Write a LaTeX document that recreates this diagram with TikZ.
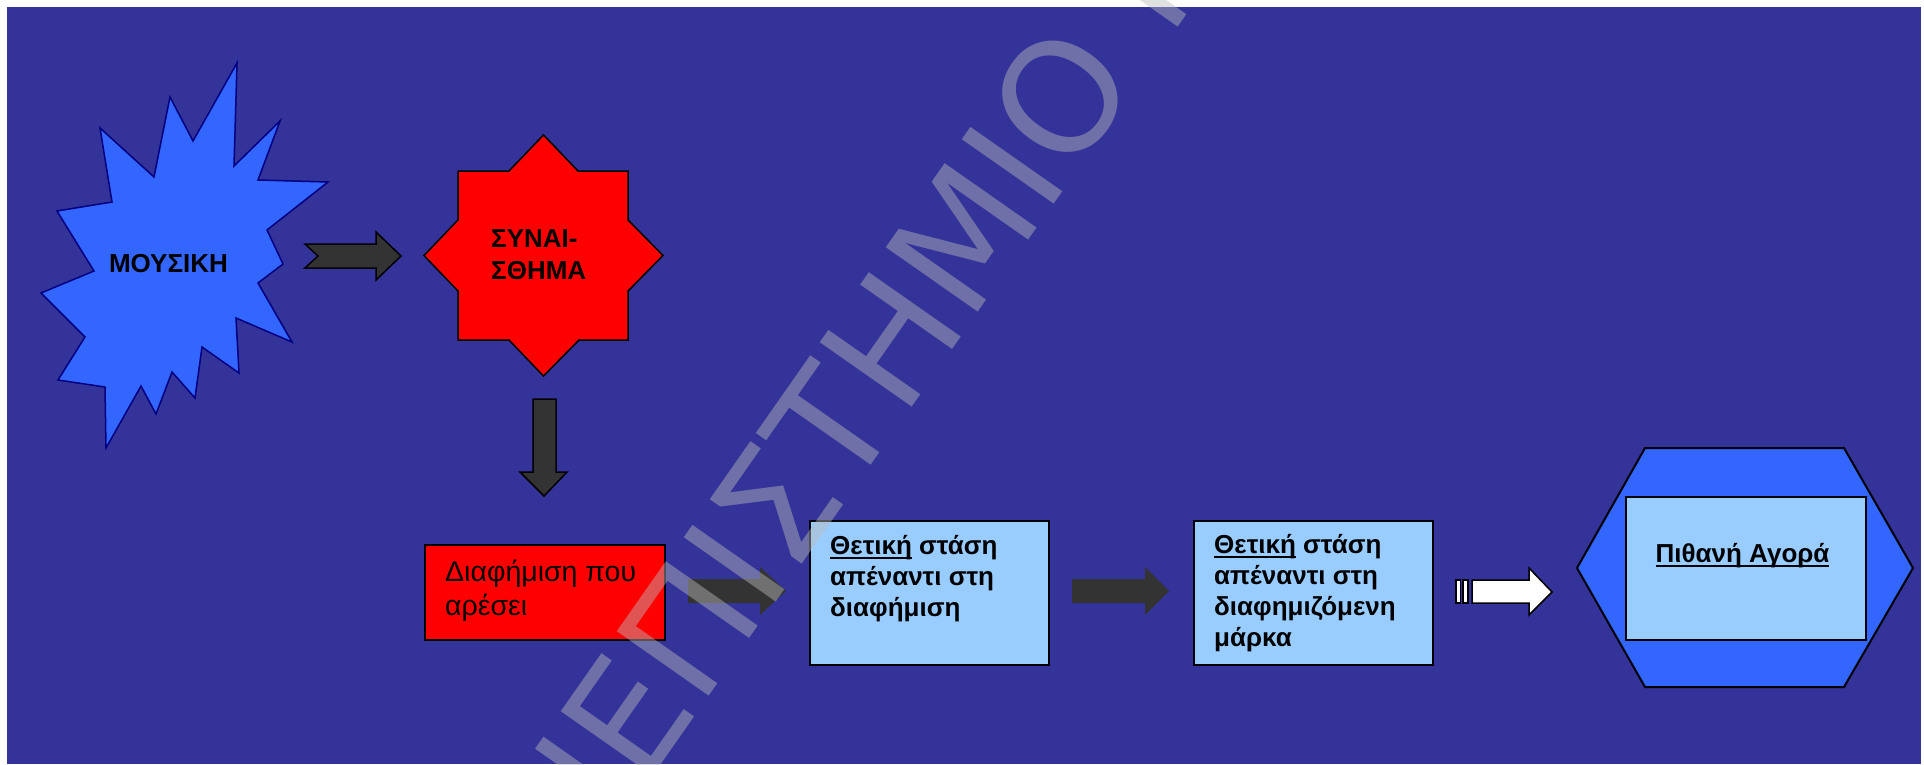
\documentclass[tikz,border=0pt]{standalone}
\usepackage{fontspec}
\setmainfont{Liberation Sans}
\newfontfamily\wmfont{DejaVu Sans}
\definecolor{bgblue}{HTML}{333399}
\definecolor{burstblue}{HTML}{3366FF}
\definecolor{lightblue}{HTML}{99CCFF}
\definecolor{darkarrow}{HTML}{333333}
\definecolor{navyline}{HTML}{000080}
\definecolor{wmgray}{RGB}{187,187,187}
\newsavebox\ulbox
\newcommand\myul[1]{\sbox\ulbox{#1}\rlap{\rule[-5.3pt]{\wd\ulbox}{2pt}}\usebox\ulbox}
\tikzset{
  boldtxt/.style={inner sep=0pt, font=\fontsize{26}{31}\selectfont\bfseries},
  regtxt/.style={inner sep=0pt, font=\fontsize{28.5}{34}\selectfont},
  boxshape/.style={draw=black, line width=2pt, inner sep=0pt, anchor=north west},
  darkblock/.style={fill=darkarrow, draw=black, line width=1.5pt, line join=miter},
  flatblock/.style={fill=darkarrow},
  whiteblock/.style={fill=white, draw=black, line width=1.5pt},
  wm/.style={inner sep=0pt, text=wmgray, text opacity=0.45, rotate=55,
    font=\fontsize{154}{160}\selectfont\wmfont}
}
\begin{document}
\begin{tikzpicture}[x=1pt,y=-1pt]
\useasboundingbox (0,0) rectangle (1924,764);
\fill[white] (0,0) rectangle (1924,764);
\fill[bgblue] (7,7) rectangle (1921,764);

% starburst
\draw[fill=burstblue, draw=navyline, line width=1.5pt, line join=miter]
  (237,63) -- (193,141) -- (170,97) -- (154,177) -- (100,128) -- (112,202) --
  (57,211) -- (94,271) -- (41,293) -- (85,337) -- (58,380) -- (105,387) --
  (106,448) -- (141,386) -- (156,414) -- (172,372) -- (195,398) -- (202,347) --
  (239,373) -- (236,318) -- (292,342) -- (258,283) -- (283,264) -- (267,230) --
  (328,182) -- (258,180) -- (280,121) -- (234,166) -- cycle;
\node[boldtxt, anchor=base] (mousiki) at (168.5,272) {ΜΟΥΣΙΚΗ};

% red star
\draw[fill=red, draw=black, line width=1.5pt]
  (543.5,135) -- (578,171) -- (628,171) -- (628,220) -- (663,255.5) -- (628,291) --
  (628,340) -- (579,340) -- (543.5,376) -- (509,340) -- (458,340) -- (458,291) --
  (424,255.5) -- (458,220) -- (458,171) -- (509,171) -- cycle;
\node[boldtxt, anchor=base west, font=\fontsize{26}{32}\selectfont\bfseries] (synais) at (491,247)
  {\vtop{\hbox{ΣΥΝΑΙ-}\hbox{ΣΘΗΜΑ}}};

% arrows
\draw[darkblock] (305,244) -- (376,244) -- (376,232) -- (401,256) -- (376,280) --
  (376,268) -- (305,268) -- (318,256) -- cycle;
\draw[darkblock] (533,399) -- (556,399) -- (556,472) -- (567,472) -- (544,496) --
  (520,472) -- (533,472) -- cycle;

% red box
\node[boxshape, fill=red, minimum width=240pt, minimum height=95pt] (adbox) at (424,544) {};
\node[regtxt, anchor=base west] (adtxt) at (445,581)
  {\vtop{\hbox{Διαφήμιση που}\hbox{αρέσει}}};

\fill[flatblock] (688,579) -- (760,579) -- (760,567) -- (786,591) -- (760,615) --
  (760,603) -- (688,603) -- cycle;

% box 2
\node[boxshape, fill=lightblue, minimum width=239pt, minimum height=144pt] (attad) at (809,520) {};
\node[boldtxt, anchor=base west] (attadtxt) at (830,554)
  {\vtop{\hbox{\myul{Θετική} στάση}\hbox{απέναντι στη}\hbox{διαφήμιση}}};

\fill[flatblock] (1072,579) -- (1145,579) -- (1145,567) -- (1169,591) -- (1145,615) --
  (1145,603) -- (1072,603) -- cycle;

% box 3
\node[boxshape, fill=lightblue, minimum width=239pt, minimum height=144pt] (attbr) at (1193,520) {};
\node[boldtxt, anchor=base west] (attbrtxt) at (1214,553)
  {\vtop{\hbox{\myul{Θετική} στάση}\hbox{απέναντι στη}\hbox{διαφημιζόμενη}\hbox{μάρκα}}};

% striped white arrow
\draw[whiteblock] (1456,580) rectangle (1460.5,603);
\draw[whiteblock] (1463,580) rectangle (1468,603);
\draw[whiteblock] (1472,580) -- (1529,580) -- (1529,568) -- (1552,592) -- (1529,615) --
  (1529,603) -- (1472,603) -- cycle;

% hexagon
\draw[fill=burstblue, draw=black, line width=2pt]
  (1577,568) -- (1645,448) -- (1844,448) -- (1913,568) -- (1844,687) -- (1645,687) -- cycle;
\node[boxshape, fill=lightblue, minimum width=240pt, minimum height=143pt] (buy) at (1625,496) {};
\node[boldtxt, anchor=base] (buytxt) at (1742.5,562) {\myul{Πιθανή Αγορά}};

% watermark
\begin{scope}
\clip (0,0) rectangle (1924,764);
\node[wm, anchor=base east] (wma) at (903,420) {ΠΑΝΕΠΙΣΤ};
\node[wm, anchor=base west] (wmb) at (903,420) {ΗΜΙΟ Π};
\end{scope}
\end{tikzpicture}
\end{document}
